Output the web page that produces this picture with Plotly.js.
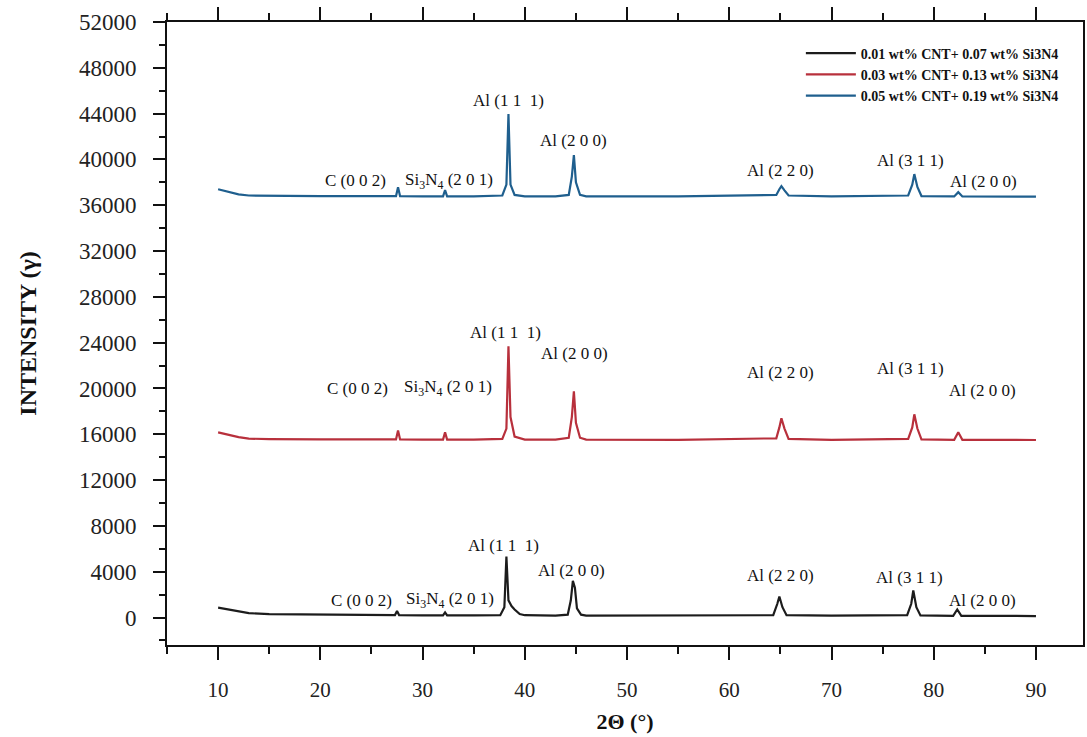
<!DOCTYPE html>
<html>
<head>
<meta charset="utf-8">
<script src="https://cdn.plot.ly/plotly-3.0.1.min.js"></script>
<style>
  html, body { margin: 0; padding: 0; background: #ffffff; }
  #chart { width: 1087px; height: 737px; }
</style>
</head>
<body>
<div id="chart"></div>
<script>
// ---- Data ----
const seriesNames = [
  "0.01 wt% CNT+ 0.07 wt% Si3N4",
  "0.03 wt% CNT+ 0.13 wt% Si3N4",
  "0.05 wt% CNT+ 0.19 wt% Si3N4"
];

const blackX = [10, 11, 12, 13, 15, 20, 25, 27.3, 27.5, 27.7, 30, 32.0, 32.2, 32.4, 35, 37.6, 38.0, 38.2, 38.4, 38.7, 39.0, 39.5, 40, 43, 44.2, 44.5, 44.7, 44.9, 45.1, 45.5, 46, 55, 64.3, 64.7, 64.9, 65.2, 65.6, 70, 77.4, 77.8, 78.0, 78.3, 78.7, 81.9, 82.3, 82.7, 86, 90];
const blackY = [870, 700, 520, 380, 300, 250, 210, 210, 560, 210, 190, 190, 450, 190, 180, 200, 900, 5330, 1500, 1000, 700, 300, 200, 170, 250, 1500, 3200, 2600, 800, 250, 170, 160, 200, 1200, 1830, 900, 200, 160, 200, 1200, 2360, 900, 180, 150, 700, 150, 140, 130];

const redX = [10, 11, 12, 13, 15, 20, 25, 27.4, 27.6, 27.8, 30, 32.0, 32.2, 32.4, 35, 37.8, 38.2, 38.4, 38.6, 39.0, 40, 43, 44.3, 44.6, 44.8, 45.0, 45.4, 46, 55, 64.6, 64.9, 65.1, 65.4, 65.8, 70, 77.5, 77.9, 78.1, 78.4, 78.8, 82.0, 82.4, 82.8, 86, 90];
const redY = [16170, 15950, 15750, 15620, 15580, 15560, 15550, 15550, 16340, 15550, 15540, 15540, 16170, 15540, 15530, 15600, 16500, 23680, 17500, 15800, 15540, 15530, 15700, 17500, 19750, 17000, 15700, 15530, 15520, 15650, 16600, 17400, 16500, 15600, 15520, 15600, 16600, 17740, 16500, 15550, 15520, 16170, 15520, 15510, 15500];

const blueX = [10, 11, 12, 13, 15, 20, 25, 27.4, 27.6, 27.8, 30, 32.0, 32.2, 32.4, 35, 37.8, 38.2, 38.4, 38.6, 39.0, 40, 43, 44.3, 44.6, 44.8, 45.0, 45.4, 46, 55, 64.6, 64.9, 65.1, 65.4, 65.8, 70, 77.5, 77.9, 78.1, 78.4, 78.8, 82.0, 82.4, 82.8, 86, 90];
const blueY = [37400, 37150, 36950, 36850, 36820, 36800, 36790, 36790, 37580, 36790, 36780, 36780, 37320, 36780, 36780, 36850, 37800, 43960, 37800, 36900, 36780, 36780, 36900, 38500, 40380, 38000, 36900, 36780, 36770, 36900, 37400, 37670, 37300, 36850, 36770, 36850, 37800, 38720, 37600, 36800, 36770, 37140, 36770, 36760, 36750];

// Peak labels: text, x, y
const labelText = [
  "C (0 0 2)", "Si<sub>3</sub>N<sub>4</sub> (2 0 1)", "Al (1 1  1)", "Al (2 0 0)", "Al (2 2 0)", "Al (3 1 1)", "Al (2 0 0)",
  "C (0 0 2)", "Si<sub>3</sub>N<sub>4</sub> (2 0 1)", "Al (1 1  1)", "Al (2 0 0)", "Al (2 2 0)", "Al (3 1 1)", "Al (2 0 0)",
  "C (0 0 2)", "Si<sub>3</sub>N<sub>4</sub> (2 0 1)", "Al (1 1  1)", "Al (2 0 0)", "Al (2 2 0)", "Al (3 1 1)", "Al (2 0 0)"
];
const labelX = [
  24.0, 32.7, 37.9, 44.6, 65.0, 77.6, 84.8,
  23.6, 32.5, 38.1, 44.9, 65.0, 77.7, 84.8,
  23.4, 32.6, 38.4, 44.8, 65.0, 77.7, 84.9
];
const labelY = [
  1490, 1490, 6290, 4110, 3670, 3500, 1490,
  20000, 20000, 24900, 23070, 21400, 21760, 19840,
  38150, 38150, 45180, 41690, 39060, 39940, 38100
];

const xTickVals = [10, 20, 30, 40, 50, 60, 70, 80, 90];
const yTickVals = [0, 4000, 8000, 12000, 16000, 20000, 24000, 28000, 32000, 36000, 40000, 44000, 48000, 52000];

// ---- Build chart ----
const serif = "Liberation Serif, Times New Roman, serif";
const lineColors = ["#1c1c1c", "#b8303c", "#1f5f8e"];

const traces = [
  { x: blackX, y: blackY, name: seriesNames[0], mode: "lines", line: { color: lineColors[0], width: 2.2 } },
  { x: redX, y: redY, name: seriesNames[1], mode: "lines", line: { color: lineColors[1], width: 2.2 } },
  { x: blueX, y: blueY, name: seriesNames[2], mode: "lines", line: { color: lineColors[2], width: 2.2 } }
];

const annotations = labelText.map((t, i) => ({
  x: labelX[i], y: labelY[i], xref: "x", yref: "y",
  text: t, showarrow: false,
  font: { family: serif, size: 17, color: "#111" }
}));

const layout = {
  width: 1087, height: 737,
  margin: { l: 167, r: 4, t: 22, b: 92 },
  paper_bgcolor: "#ffffff", plot_bgcolor: "#ffffff",
  showlegend: true,
  legend: {
    x: 0.692, y: 0.975, xanchor: "left", yanchor: "top",
    bgcolor: "rgba(0,0,0,0)", borderwidth: 0,
    font: { family: serif, size: 14, color: "#111", weight: "bold" },
    itemwidth: 50, tracegroupgap: 0
  },
  xaxis: {
    range: [5, 94.6],
    tickvals: xTickVals, ticktext: xTickVals.map(String),
    ticks: "outside", ticklen: 13, tickwidth: 2, tickcolor: "#111",
    minor: { dtick: 5, tick0: 0, ticks: "outside", ticklen: 7, tickwidth: 2, tickcolor: "#111", showgrid: false },
    showline: true, linecolor: "#111", linewidth: 2, mirror: "ticks",
    showgrid: false, zeroline: false,
    tickfont: { family: serif, size: 21, color: "#222" },
    ticklabelstandoff: 12,
    title: { text: "2Θ (°)", font: { family: serif, size: 22, color: "#111", weight: "bold" }, standoff: 12 }
  },
  yaxis: {
    range: [-2400, 52000],
    tickvals: yTickVals, ticktext: yTickVals.map(String),
    ticks: "outside", ticklen: 12, tickwidth: 2, tickcolor: "#111",
    minor: { dtick: 2000, tick0: 0, ticks: "outside", ticklen: 6, tickwidth: 2, tickcolor: "#111", showgrid: false },
    showline: true, linecolor: "#111", linewidth: 2, mirror: true,
    showgrid: false, zeroline: false,
    tickfont: { family: serif, size: 23, color: "#222" },
    ticklabelstandoff: 12,
    title: { text: "INTENSITY (γ)", font: { family: serif, size: 24, color: "#111", weight: "bold" }, standoff: 36 }
  },
  annotations: annotations
};

Plotly.newPlot("chart", traces, layout, { displayModeBar: false, staticPlot: true });
</script>
</body>
</html>
